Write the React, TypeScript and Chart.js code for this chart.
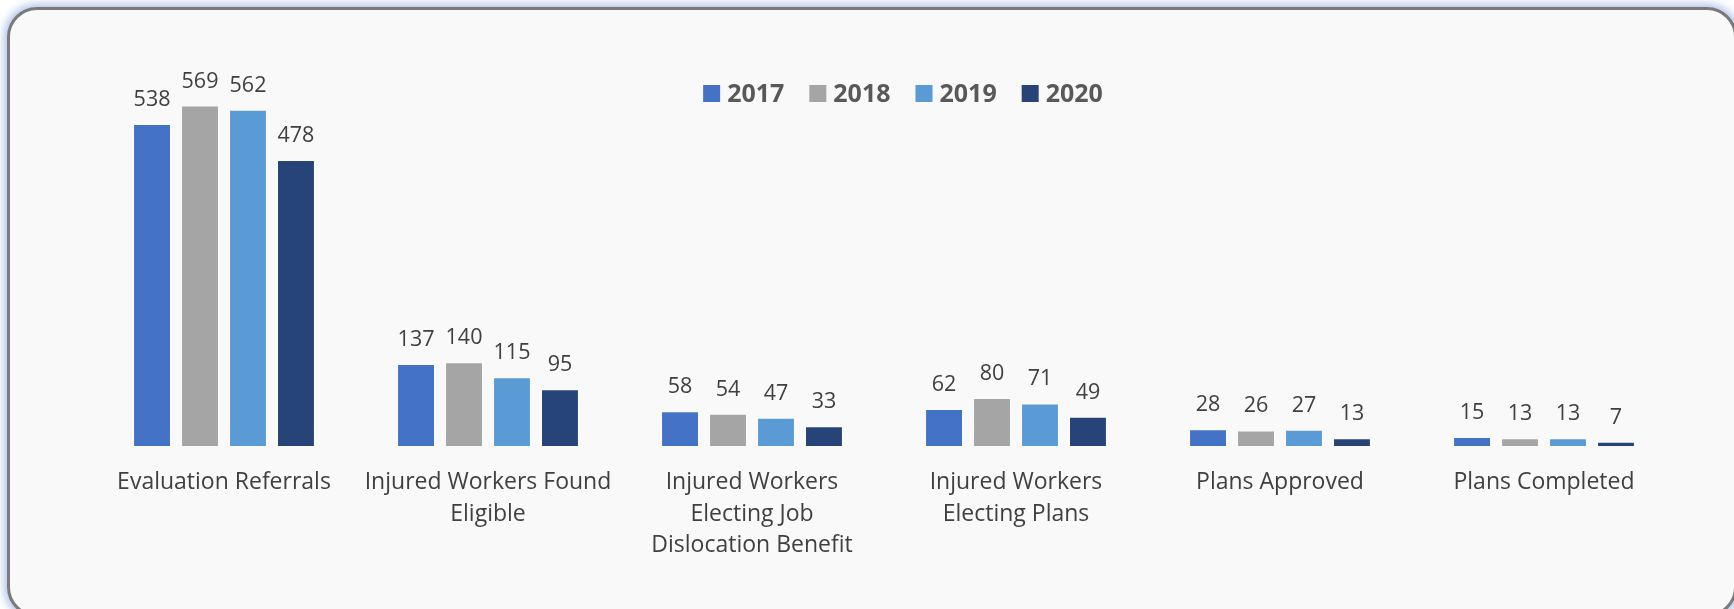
import React, { useEffect, useRef } from "react";
import { Chart, registerables } from "chart.js";

Chart.register(...registerables);

const categories: string[][] = [
  ["Evaluation Referrals"],
  ["Injured Workers Found", "Eligible"],
  ["Injured Workers", "Electing Job", "Dislocation Benefit"],
  ["Injured Workers", "Electing Plans"],
  ["Plans Approved"],
  ["Plans Completed"],
];
const years: string[] = ["2017", "2018", "2019", "2020"];
const values2017: number[] = [538, 137, 58, 62, 28, 15];
const values2018: number[] = [569, 140, 54, 80, 26, 13];
const values2019: number[] = [562, 115, 47, 71, 27, 13];
const values2020: number[] = [478, 95, 33, 49, 13, 7];
const seriesColors: string[] = ["#4472C4", "#A5A5A5", "#5B9BD5", "#264478"];

const W = 1734;
const H = 609;

const valueLabelPlugin = {
  id: "valueLabels",
  afterDatasetsDraw(chart: any) {
    const ctx = chart.ctx;
    ctx.save();
    ctx.font = "21.5px 'Open Sans'";
    ctx.fillStyle = "#404040";
    ctx.textAlign = "center";
    ctx.textBaseline = "alphabetic";
    chart.data.datasets.forEach((ds: any, di: number) => {
      const meta = chart.getDatasetMeta(di);
      meta.data.forEach((bar: any, i: number) => {
        ctx.fillText(String(ds.data[i]), bar.x, bar.y - 18);
      });
    });
    ctx.restore();
  },
};

const legendPlugin = {
  id: "customLegend",
  afterDraw(chart: any) {
    const ctx = chart.ctx;
    const area = chart.chartArea;
    ctx.save();
    ctx.font = "bold 25px 'Open Sans'";
    const box = 17;
    const gapBoxText = 7;
    const gapItems = 25;
    const items = chart.data.datasets.map((ds: any) => ({
      label: ds.label,
      color: ds.backgroundColor,
      w: box + gapBoxText + ctx.measureText(ds.label).width,
    }));
    const total = items.reduce((s: number, it: any) => s + it.w, 0) + gapItems * (items.length - 1);
    let x = (area.left + area.right) / 2 + 19 - total / 2;
    const boxTop = 85;
    const baseline = 102;
    items.forEach((it: any) => {
      ctx.fillStyle = it.color;
      ctx.fillRect(x, boxTop, box, box);
      ctx.fillStyle = "#595959";
      ctx.textAlign = "left";
      ctx.textBaseline = "alphabetic";
      ctx.fillText(it.label, x + box + gapBoxText, baseline);
      x += it.w + gapItems;
    });
    ctx.restore();
  },
};

export default function App() {
  const ref = useRef<HTMLCanvasElement | null>(null);

  useEffect(() => {
    if (!ref.current) return;
    const seriesValues = [values2017, values2018, values2019, values2020];
    const chart = new Chart(ref.current, {
      type: "bar",
      data: {
        labels: categories,
        datasets: years.map((y, i) => ({
          label: y,
          data: seriesValues[i],
          backgroundColor: seriesColors[i],
          borderColor: "rgba(255,255,255,0.35)",
          borderWidth: 1,
          categoryPercentage: 0.727,
          barPercentage: 0.79,
        })),
      },
      options: {
        responsive: false,
        animation: false,
        devicePixelRatio: 1,
        layout: { padding: { left: 92, right: 58, top: 87, bottom: 26.5 } },
        plugins: {
          legend: { display: false },
          tooltip: { enabled: false },
          title: { display: false },
        },
        scales: {
          x: {
            grid: { display: false, drawTicks: false },
            border: { display: false },
            ticks: {
              padding: 21,
              color: "#404040",
              font: { family: "'Open Sans'", size: 23, lineHeight: 1.37 },
              maxRotation: 0,
              autoSkip: false,
            },
          },
          y: {
            display: false,
            min: 0,
            max: 600,
          },
        },
      },
      plugins: [valueLabelPlugin, legendPlugin],
    });
    return () => chart.destroy();
  }, []);

  return (
    <div
      style={{
        position: "fixed",
        left: 0,
        top: 0,
        width: W,
        height: H,
        overflow: "hidden",
        background: "#ffffff",
      }}
    >
      <div
        style={{
          position: "absolute",
          left: 7,
          top: 7,
          width: 1730,
          height: 610,
          boxSizing: "border-box",
          border: "3px solid #7a7a7a",
          borderRadius: 30,
          background: "#f9f9f9",
          boxShadow: "0 0 9px 3px rgba(140,170,225,0.7)",
        }}
      />
      <canvas
        ref={ref}
        width={W}
        height={H}
        style={{ position: "absolute", left: 0, top: 0, width: W, height: H }}
      />
    </div>
  );
}
